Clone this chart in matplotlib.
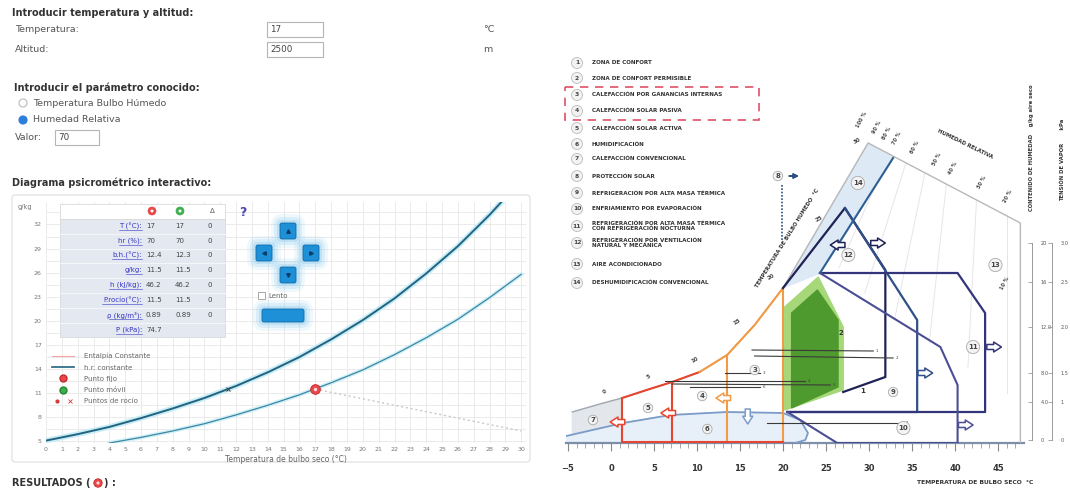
import matplotlib
matplotlib.use("Agg")
import matplotlib.pyplot as plt
from matplotlib.patches import Rectangle, FancyBboxPatch, Circle
from matplotlib.lines import Line2D
from matplotlib.legend_handler import HandlerTuple
import numpy as np

plt.rcParams['font.family'] = ['DejaVu Sans']

# ---------------- left: psychrometric chart (2500 m, 74.7 kPa) ----------------
sat_t = [0, 2, 4, 6, 8, 10, 12, 14, 16, 18, 20, 22, 24, 26, 28, 30]
sat_w = [5.1, 5.9, 6.8, 7.9, 9.1, 10.4, 11.9, 13.6, 15.5, 17.7, 20.1, 22.8, 25.9, 29.3, 33.2, 37.5]
hr_t = [4, 6, 8, 10, 12, 14, 16, 18, 20, 22, 24, 26, 28, 30]
hr_w = [4.8, 5.5, 6.3, 7.2, 8.3, 9.5, 10.8, 12.3, 13.9, 15.8, 17.9, 20.2, 22.9, 25.8]
enth_t = [17, 30]
enth_w = [11.5, 6.3]
fixed_t, fixed_w = 17, 11.5
dew_t, dew_w = 11.5, 11.5

table_rows = ["T (°C):", "hr (%):", "b.h.(°C):", "g/kg:", "h (kJ/kg):",
              "P.rocío(°C):", "ρ (kg/m³):", "P (kPa):"]
table_fixed = ["17", "70", "12.4", "11.5", "46.2", "11.5", "0.89", "74.7"]
table_moving = ["17", "70", "12.3", "11.5", "46.2", "11.5", "0.89", ""]
table_delta = ["0", "0", "0", "0", "0", "0", "0", ""]

# ---------------- right: Givoni bioclimatic chart (°C, g/kg) ----------------
giv_sat_t = [-4.5, -1.3, 1.3, 4.5, 7.1, 10.3, 13.5, 16.7, 20.0]
giv_sat_w = [3.1, 3.9, 4.5, 5.4, 6.1, 7.1, 8.8, 11.8, 15.5]
giv_top_t = [20.0, 29.9, 47.6, 47.6]
giv_top_w = [15.5, 30.0, 22.0, 0.0]

z1_t = [21.0, 21.0, 24.0, 26.4, 26.4]
z1_w = [3.5, 13.0, 15.3, 12.3, 5.6]
z2_t = [20.2, 20.2, 24.1, 27.0, 27.0]
z2_w = [3.3, 13.6, 16.6, 11.6, 5.3]
z6_t = [-5.2, 1.4, 6.9, 13.5, 20.0, 22.0, 22.9, 22.6, 21.4]
z6_w = [0.7, 2.0, 2.8, 3.1, 3.0, 2.3, 1.0, 0.3, 0.0]
z7_t = [-4.5, -4.5, -1.3, 1.3, 1.3]
z7_w = [0.0, 3.1, 3.9, 4.5, 0.0]
z9_t = [27.2, 35.6, 35.6, 20.5]
z9_w = [23.5, 12.3, 3.1, 3.1]
z10_t = [20.5, 26.3, 40.3, 40.3, 38.3, 24.3]
z10_w = [3.1, 0.0, 0.0, 5.8, 9.6, 17.0]
z11_t = [24.3, 40.3, 43.5, 43.5, 20.5]
z11_w = [17.0, 17.0, 13.0, 3.1, 3.1]
z12_t = [20.0, 27.2, 31.9, 31.9, 27.0]
z12_w = [15.5, 23.5, 17.3, 6.6, 5.1]
z14_t = [20.0, 29.9, 32.8, 24.3]
z14_w = [15.5, 30.0, 28.5, 17.0]

# monthly climate lines
month_t0 = [16.4, 16.7, 13.3, 6.3, 7.1, 9.2, 18.1]
month_t1 = [30.5, 32.8, 17.3, 22.6, 25.5, 17.3, 34.0]
month_w0 = [9.3, 8.7, 7.0, 6.2, 5.9, 5.6, 2.0]
month_w1 = [9.2, 8.5, 7.0, 6.2, 5.8, 5.6, 2.0]

# faint relative humidity lines
rh_top_t = [32.4, 34.3, 36.5, 39.0, 42.5, 46.0]
rh_top_w = [28.9, 28.0, 27.0, 25.9, 24.3, 22.7]
rh_bot_t = [26.5, 29.5, 33.0, 37.0, 41.5, 46.0]
rh_bot_w = [17.5, 15.0, 12.5, 10.0, 7.5, 5.0]
rh_labels = ["100 %", "90 %", "80 %", "70 %", "60 %", "50 %", "40 %", "30 %", "20 %"]
rh_label_t = [29.2, 30.9, 32.1, 33.3, 35.3, 37.9, 39.8, 43.1, 46.2]

zone_names = ["ZONA DE CONFORT", "ZONA DE CONFORT PERMISIBLE",
              "CALEFACCIÓN POR GANANCIAS INTERNAS", "CALEFACCIÓN SOLAR PASIVA",
              "CALEFACCIÓN SOLAR ACTIVA", "HUMIDIFICACIÓN", "CALEFACCIÓN CONVENCIONAL",
              "PROTECCIÓN SOLAR", "REFRIGERACIÓN POR ALTA MASA TÉRMICA",
              "ENFRIAMIENTO POR EVAPORACIÓN",
              "REFRIGERACIÓN POR ALTA MASA TÉRMICA\nCON REFRIGERACIÓN NOCTURNA",
              "REFRIGERACIÓN POR VENTILACIÓN\nNATURAL Y MECÁNICA",
              "AIRE ACONDICIONADO", "DESHUMIDIFICACIÓN CONVENCIONAL"]

hum_scale_w = [20.0, 16.1, 11.6, 7.0, 4.1, 0.3]
hum_scale_lbl = ["20", "16", "12.0", "8.0", "4.0", "0"]
vap_scale_lbl = ["3.0", "2.5", "2.0", "1.5", "1", "0"]

W, H = 1070, 492
fig = plt.figure(figsize=(W / 100, H / 100), dpi=100)


def frect(x0, y0, x1, y1):
    return [x0 / W, 1 - y1 / H, (x1 - x0) / W, (y1 - y0) / H]


bg = fig.add_axes([0, 0, 1, 1])
bg.set_xlim(0, W)
bg.set_ylim(H, 0)
bg.axis('off')

# ---- form on top left ----
txt = '#333333'
bg.text(12, 13, "Introducir temperatura y altitud:", fontsize=7, fontweight='bold', color=txt, va='center')
bg.text(15, 30, "Temperatura:", fontsize=6.8, color='#555', va='center')
bg.text(15, 49, "Altitud:", fontsize=6.8, color='#555', va='center')
for y0, val in [(22, "17"), (42, "2500")]:
    bg.add_patch(Rectangle((267, y0), 56, 15, fc='white', ec='#b5b5b5', lw=0.8))
    bg.text(270, y0 + 7.5, val, fontsize=6.3, color='#444', va='center')
bg.text(483, 30, "°C", fontsize=6.8, color='#555', va='center')
bg.text(483, 50, "m", fontsize=6.8, color='#555', va='center')
bg.text(14, 88, "Introducir el parámetro conocido:", fontsize=7, fontweight='bold', color=txt, va='center')
bg.add_patch(Circle((23, 103), 4, fc='white', ec='#bbb', lw=0.8))
bg.add_patch(Circle((23, 120), 4, fc='#2b7fdc', ec='#2b7fdc', lw=0.8))
bg.text(33, 103, "Temperatura Bulbo Húmedo", fontsize=6.8, color='#555', va='center')
bg.text(33, 120, "Humedad Relativa", fontsize=6.8, color='#555', va='center')
bg.text(15, 138, "Valor:", fontsize=6.8, color='#555', va='center')
bg.add_patch(Rectangle((55, 130), 44, 15, fc='white', ec='#b5b5b5', lw=0.8))
bg.text(58, 137.5, "70", fontsize=6.3, color='#444', va='center')
bg.text(12, 183, "Diagrama psicrométrico interactivo:", fontsize=7, fontweight='bold', color=txt, va='center')
bg.add_patch(FancyBboxPatch((12, 195), 518, 267, boxstyle='round,pad=0,rounding_size=3',
                            fc='none', ec='#e2e2e2', lw=0.9))
bg.text(18, 207, "g/kg", fontsize=4.8, color='#777', va='center')
bg.text(12, 483, "RESULTADOS (", fontsize=7, fontweight='bold', color=txt, va='center')
bg.add_patch(Circle((98, 483), 4.2, fc='#e8474a', ec='#c72a2a', lw=0.6))
bg.add_patch(Circle((98, 483), 1.6, fc='#fbd7d7', ec='none'))
bg.text(104, 483, ") :", fontsize=7, fontweight='bold', color=txt, va='center')

# ---- psychrometric chart ----
ax = fig.add_axes(frect(46, 202, 526, 443))
ax.set_xlim(0, 30.3)
ax.set_ylim(4.8, 34.8)
ax.set_xticks(range(0, 31))
ax.set_yticks(range(5, 33, 3))
ax.set_yticks(np.arange(6.5, 34.8, 3), minor=True)
ax.grid(True, which='both', color='#e8e8e8', lw=0.6)
ax.tick_params(which='both', length=0, labelsize=4.5, labelcolor='#777', pad=3)
for s in ax.spines.values():
    s.set_visible(False)
ax.set_xlabel("Temperatura de bulbo seco (°C)", fontsize=5.5, color='#666', labelpad=2)
ax.plot(sat_t, sat_w, color='#c8edf7', lw=4, zorder=2)
ax.plot(sat_t, sat_w, color='#23637f', lw=1.4, zorder=3)
ax.plot(hr_t, hr_w, color='#d3f0f7', lw=3, zorder=2)
ax.plot(hr_t, hr_w, color='#3a87a3', lw=0.9, zorder=3)
ax.plot(enth_t, enth_w, color='#c8c8c8', lw=1.0, ls=(0, (1.5, 2)), zorder=2)
ax.plot(dew_t, dew_w, marker='x', ms=2.5, color='#444', mew=0.7, zorder=4)
ax.plot(fixed_t, fixed_w, 'o', ms=7, mfc='#e8474a', mec='#c72a2a', mew=0.6, zorder=5)
ax.plot(fixed_t, fixed_w, 'o', ms=2.5, mfc='#fbd7d7', mec='none', zorder=6)

h_enth = Line2D([], [], color='#f2a6a6', lw=0.8)
h_hr = Line2D([], [], color='#23637f', lw=1.2)
h_fix = Line2D([], [], ls='none', marker='o', ms=5, mfc='#e8474a', mec='#c72a2a')
h_mov = Line2D([], [], ls='none', marker='o', ms=5, mfc='#3cae4c', mec='#22882f')
h_dew1 = Line2D([], [], ls='none', marker='o', ms=2, mfc='#d83a3a', mec='#d83a3a')
h_dew2 = Line2D([], [], ls='none', marker='x', ms=2.5, color='#d83a3a', mew=0.6)
ax.legend([h_enth, h_hr, h_fix, h_mov, (h_dew1, h_dew2)],
          ["Entalpía Constante", "h.r. constante", "Punto fijo", "Punto móvil", "Puntos de rocío"],
          handler_map={tuple: HandlerTuple(ndivide=None, pad=0.6)},
          loc='upper left', bbox_to_anchor=(0.0, 0.40), frameon=False, fontsize=5,
          handlelength=3.2, labelspacing=0.75, handletextpad=1.4, labelcolor='#666')

# ---- Givoni chart ----
gv = fig.add_axes(frect(566.3, 113, 1023.8, 443))
gv.set_xlim(-5.2, 48)
gv.set_ylim(0, 33)
gv.patch.set_alpha(0)
for n in ['top', 'right', 'left']:
    gv.spines[n].set_visible(False)
gv.spines['bottom'].set_color('#7d8fa8')
gv.spines['bottom'].set_linewidth(1.6)
gv.set_yticks([])
gv.set_xticks(range(-5, 50, 5))
gv.set_xticks(range(-5, 48), minor=True)
gv.tick_params(axis='x', which='major', length=6, width=0.8, color='#888', labelsize=6,
               pad=9, labelcolor='#333')
gv.tick_params(axis='x', which='minor', length=3.5, width=0.6, color='#999')
for lb in gv.get_xticklabels():
    lb.set_fontweight('bold')

for t0, w0, t1, w1 in zip(rh_top_t, rh_top_w, rh_bot_t, rh_bot_w):
    gv.plot([t0, t1], [w0, w1], color='#e6e6e6', lw=0.7, zorder=1)
gv.fill(z7_t, z7_w, color='#e3e6ea', zorder=1)
gv.fill(z6_t + [-5.2], z6_w + [0.0], color='#e7eff9', zorder=1)
gv.fill(z14_t, z14_w, color='#dde9f4', zorder=1)
gv.fill(z2_t, z2_w, color='#a6d879', zorder=2)
gv.fill(z1_t, z1_w, color='#4f9a2e', zorder=2)
gv.plot(z6_t, z6_w, color='#7b9cc9', lw=1.3, zorder=3)
gv.plot(giv_sat_t, giv_sat_w, color='#a0a8b2', lw=1.0, zorder=3)
gv.plot(giv_top_t, giv_top_w, color='#b8b8b8', lw=1.0, zorder=3)

# red (active solar) and orange (passive solar) zones
red, orange = '#e8452e', '#f39a45'
gv.plot(giv_sat_t[2:6], giv_sat_w[2:6], color=red, lw=1.5, zorder=4)
gv.plot(giv_sat_t[5:], giv_sat_w[5:], color=orange, lw=1.5, zorder=4)
for i in (2, 4):
    gv.plot([giv_sat_t[i]] * 2, [0, giv_sat_w[i]], color=red, lw=1.5, zorder=4)
for i in (6, 8):
    gv.plot([giv_sat_t[i]] * 2, [0, giv_sat_w[i]], color=orange, lw=1.5, zorder=4)
gv.plot([giv_sat_t[2], giv_sat_t[8]], [0.15, 0.15], color=red, lw=1.5, zorder=4)

gv.plot(z12_t, z12_w, color='#1f2257', lw=1.6, zorder=5)
gv.plot(z9_t, z9_w, color='#2f4f86', lw=1.6, zorder=5)
gv.plot(z11_t, z11_w, color='#33357a', lw=1.6, zorder=5)
gv.plot(z10_t, z10_w, color='#4b4e94', lw=1.5, zorder=5)
gv.plot(z14_t[2:], z14_w[2:], color='#2c5f94', lw=1.5, zorder=5)

for t0, t1, w0, w1 in zip(month_t0, month_t1, month_w0, month_w1):
    gv.plot([t0, t1], [w0, w1], color='#3a3a3a', lw=0.8, zorder=6)
for k, (t1, w1) in enumerate(zip(month_t1, month_w1)):
    gv.text(t1 + 0.3, w1, str(k + 1), fontsize=3, color='#444', va='center', zorder=6)


def circ(t, w, s, fs=5):
    gv.text(t, w, s, ha='center', va='center', fontsize=fs, fontweight='bold', color='#444', zorder=7,
            bbox=dict(boxstyle='circle,pad=0.25', fc='#f3f3f3', ec='#aaa', lw=0.6))


for s, t, w in [("7", -2.1, 2.3), ("5", 4.3, 3.5), ("4", 10.6, 4.7), ("6", 11.2, 1.4),
                ("3", 16.7, 7.3), ("9", 32.8, 5.1), ("10", 34.0, 1.5), ("11", 42.1, 9.6),
                ("12", 27.6, 18.8), ("13", 44.7, 17.8), ("14", 28.7, 26.0), ("8", 19.4, 26.7)]:
    circ(t, w, s)
gv.text(26.4, 10.8, "2", fontsize=5, fontweight='bold', color='#333', zorder=7)
gv.text(29.0, 5.0, "1", fontsize=5, fontweight='bold', color='#333', zorder=7)


def hollow_arrow(t, w, dt, dw, color):
    gv.annotate('', xy=(t + dt, w + dw), xytext=(t, w), zorder=7,
                arrowprops=dict(arrowstyle='simple,head_width=0.9,head_length=0.7,tail_width=0.45',
                                fc='white', ec=color, lw=1.1, mutation_scale=8, shrinkA=0, shrinkB=0))


for t, w, dt, dw, c in [(1.6, 2.1, -1.7, 0, red), (7.5, 3.0, -1.7, 0, red), (13.9, 4.5, -1.7, 0, orange),
                        (15.9, 3.4, 0, -1.5, '#7b9cc9'), (27.2, 19.8, -1.7, 0, '#1f2257'),
                        (30.2, 20.0, 1.7, 0, '#1f2257'), (35.7, 7.0, 1.7, 0, '#2f4f86'),
                        (43.7, 9.6, 1.7, 0, '#33357a'), (40.4, 1.8, 1.7, 0, '#4b4e94')]:
    hollow_arrow(t, w, dt, dw, c)
gv.annotate('', xy=(22.2, 26.7), xytext=(20.4, 26.7),
            arrowprops=dict(arrowstyle='-|>', color='#2c4f80', lw=1.4, mutation_scale=7))
gv.plot([19.9, 19.9], [20.3, 25.8], color='#2c4f80', lw=1.2, ls=(0, (1, 1)), zorder=6)

# text on the chart
for s, t, w in [("0", -0.7, 5.1), ("5", 4.4, 6.6), ("10", 9.8, 8.3), ("15", 14.6, 12.1),
                ("20", 18.6, 16.6), ("25", 24.2, 22.4), ("30", 28.6, 30.2)]:
    gv.text(t, w, s, fontsize=4, fontweight='bold', color='#444', ha='center', va='center', rotation=30)
gv.text(20.5, 20.5, "TEMPERATURA DE BULBO HUMEDO  °C", fontsize=3.9, fontweight='bold', color='#333',
        rotation=58, ha='center', va='center')
gv.text(41.2, 29.9, "HUMEDAD RELATIVA", fontsize=3.9, fontweight='bold', color='#333',
        rotation=-26, ha='center', va='center')
for s, t in zip(rh_labels, rh_label_t):
    gv.text(t, 30 - 0.452 * (t - 29.9) + 2.0, s, fontsize=3.6, fontweight='bold', color='#444',
            rotation=62, ha='center', va='center')
gv.text(45.8, 16.0, "10 %", fontsize=3.6, fontweight='bold', color='#444', rotation=62,
        ha='center', va='center')

# right-hand scales
for xpx, lbls in [(1032, hum_scale_lbl), (1052, vap_scale_lbl)]:
    sa = fig.add_axes(frect(xpx, 113, xpx + 0.5, 443))
    sa.set_ylim(0, 33)
    sa.patch.set_alpha(0)
    sa.set_xticks([])
    for n in ['top', 'right', 'bottom']:
        sa.spines[n].set_visible(False)
    sa.spines['left'].set_bounds(0.3, 20.0)
    sa.spines['left'].set_color('#999')
    sa.spines['left'].set_linewidth(0.7)
    sa.set_yticks(hum_scale_w)
    sa.set_yticklabels(lbls)
    sa.tick_params(axis='y', left=True, right=False, labelleft=False, labelright=True, length=3,
                   width=0.6, labelsize=3.6, color='#999', labelcolor='#555', pad=3)
bg.text(1031, 148, "CONTENIDO DE HUMEDAD    g/kg aire seco", rotation=90, fontsize=3.8,
        fontweight='bold', color='#333', ha='center', va='center')
bg.text(1063, 160, "TENSIÓN DE VAPOR       kPa", rotation=90, fontsize=3.8,
        fontweight='bold', color='#333', ha='center', va='center')
bg.text(975, 483, "TEMPERATURA DE BULBO SECO  °C", fontsize=4.3, fontweight='bold', color='#333',
        ha='center', va='center')

# zone list
list_y = [63, 78, 95, 111, 128, 144, 159, 176, 193, 209, 226, 243, 264, 283]
for k, (name, y) in enumerate(zip(zone_names, list_y)):
    bg.add_patch(Circle((577, y), 5.5, fc='#f2f2f2', ec='#bbb', lw=0.6))
    bg.text(577, y, str(k + 1), fontsize=4.3, fontweight='bold', color='#444', ha='center', va='center')
    bg.text(592, y, name, fontsize=4.1, fontweight='bold', color='#333', va='center', linespacing=1.1)
bg.add_patch(Rectangle((565, 87), 194, 33, fc='none', ec='#e0506a', lw=1.2, ls=(0, (5, 4))))

# ---- overlay widgets on the psychrometric chart ----
fg = fig.add_axes([0, 0, 1, 1])
fg.set_xlim(0, W)
fg.set_ylim(H, 0)
fg.axis('off')
fg.patch.set_alpha(0)

fg.add_patch(Rectangle((60, 204), 165, 15, fc='white', ec='#d9d9d9', lw=0.6))
fg.add_patch(Rectangle((60, 219), 165, 118, fc='#e4e8f0', ec='#d9d9d9', lw=0.6))
row_y = [226, 241, 255, 270, 285, 300, 315, 330]
for y in row_y[:-1]:
    fg.plot([60, 225], [y + 7.5, y + 7.5], color='#f3f5f9', lw=0.8)
for c, x in [('#e8474a', 152), ('#3cae4c', 180)]:
    fg.add_patch(Circle((x, 211), 4, fc=c, ec=c, lw=0.5))
    fg.add_patch(Circle((x, 211), 1.5, fc='white', ec='none'))
fg.text(212, 211, "Δ", fontsize=5, color='#555', ha='center', va='center')
for lab, a, b, d, y in zip(table_rows, table_fixed, table_moving, table_delta, row_y):
    fg.text(142, y, lab, fontsize=5, color='#3535c8', ha='right', va='center')
    fg.plot([142 - len(lab) * 3.3, 142], [y + 4, y + 4], color='#3535c8', lw=0.4)
    fg.text(146, y, a, fontsize=5, color='#444', va='center')
    fg.text(175, y, b, fontsize=5, color='#444', va='center')
    fg.text(207, y, d, fontsize=5, color='#444', va='center')
fg.text(243, 213, "?", fontsize=9, color='#4a4ab0', ha='center', va='center', fontweight='bold')


def glow_box(x, y, w, h):
    for grow, a in [(9, 0.12), (6, 0.18), (3, 0.3)]:
        fg.add_patch(FancyBboxPatch((x - grow, y - grow), w + 2 * grow, h + 2 * grow,
                                    boxstyle='round,pad=0,rounding_size=%d' % (grow + 2),
                                    fc='#7fc6ee', ec='none', alpha=a))
    fg.add_patch(FancyBboxPatch((x, y), w, h, boxstyle='round,pad=0,rounding_size=2',
                                fc='#1e90d8', ec='#0f6aa8', lw=0.6))


for (cx, cy), m in [((288, 231), '^'), ((264, 253), '<'), ((311, 253), '>'), ((288, 275), 'v')]:
    glow_box(cx - 8, cy - 8, 16, 16)
    fg.plot(cx, cy, marker=m, ms=2.5, color='#0a3d66')
fg.add_patch(Rectangle((258, 292), 7, 7, fc='white', ec='#999', lw=0.6))
fg.text(268, 296, "Lento", fontsize=5, color='#666', va='center')
glow_box(262, 309, 42, 13)

fig.savefig("out.png", dpi=100)
